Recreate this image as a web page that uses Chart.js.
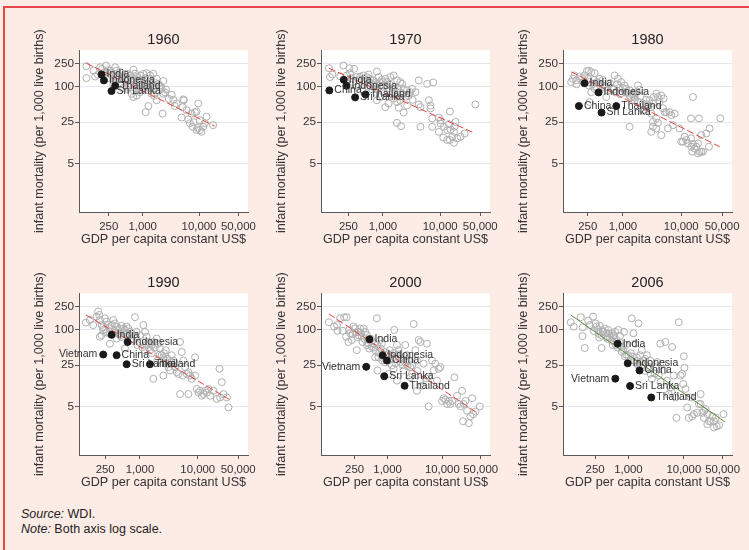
<!DOCTYPE html>
<html>
<head>
<meta charset="utf-8">
<script src="https://cdn.jsdelivr.net/npm/chart.js@4.4.0/dist/chart.umd.min.js"></script>
<style>
    body { margin: 0; width: 749px; height: 550px; background: #fdebe5; position: relative; overflow: hidden; font-family: "Liberation Sans", Arial, sans-serif; }
    #frame { position: absolute; left: 3px; top: 6px; right: -5px; bottom: -5px; border-top: 2px solid #e5474b; border-left: 2px solid #e5474b; }
    canvas { position: absolute; }
    .note { position: absolute; left: 21px; font-size: 12.5px; line-height: 15px; color: #222; }
</style>
</head>
<body>
<div id="frame"></div>
<div class="note" style="top:507px"><i>Source:</i> WDI.</div>
<div class="note" style="top:522px"><i>Note:</i> Both axis log scale.</div>
<script>
// tick values (both axes log scale)
const xTicks = [250, 1000, 10000, 50000];
const yTicks = [5, 25, 100, 250];

// highlighted countries: name, gdp per capita, infant mortality
const keyNames1960 = ['India', 'Indonesia', 'Thailand', 'Sri Lanka'];
const keyGdp1960 = [186, 205, 325, 279];
const keyMort1960 = [161, 128, 104, 84.5];

const keyNames1970 = ['India', 'Indonesia', 'China', 'Thailand', 'Sri Lanka'];
const keyGdp1970 = [207, 231, 116, 497, 327];
const keyMort1970 = [131, 104, 86.7, 74, 66];

const keyNames1980 = ['India', 'Indonesia', 'China', 'Thailand', 'Sri Lanka'];
const keyGdp1980 = [220, 383, 176, 769, 430];
const keyMort1980 = [115, 80, 47, 47, 36.5];

const keyNames1990 = ['India', 'Indonesia', 'Vietnam', 'China', 'Sri Lanka', 'Thailand'];
const keyGdp1990 = [323, 611, 231, 394, 588, 1490];
const keyMort1990 = [82, 62, 38, 37, 26, 26];

const keyNames2000 = ['India', 'Indonesia', 'China', 'Vietnam', 'Sri Lanka', 'Thailand'];
const keyGdp2000 = [469, 811, 972, 408, 869, 2047];
const keyMort2000 = [69, 37, 30, 23.5, 16.3, 11.2];

const keyNames2006 = ['India', 'Indonesia', 'China', 'Vietnam', 'Sri Lanka', 'Thailand'];
const keyGdp2006 = [640, 972, 1585, 581, 1072, 2582];
const keyMort2006 = [58, 27, 20.4, 14.8, 11.1, 7.1];

// fitted line end points [gdp, mortality]
const fit1960 = [[100, 250], [19000, 21.4]];
const fit1970 = [[114, 206], [41000, 16.1]];
const fit1980 = [[130, 179], [45400, 9.6]];
const fit1990 = [[116, 178], [34500, 6.65]];
const fit2000 = [[85, 186], [43000, 3.9]];
const fit2006 = [[91, 178], [54800, 2.75]];

// all other countries [gdp, mortality]
const other1960 = [[100,223],[100,140],[134,188],[143,149],[176,214],[224,229],[231,177],[264,188],[283,155],[324,214],[347,188],[371,155],[303,128],[397,177],[425,136],[486,146],[521,166],[597,155],[684,194],[731,166],[783,146],[898,155],[1030,166],[1180,170],[1350,155],[1545,166],[1770,136],[2320,125],[1890,112],[1545,105],[1180,112],[898,120],[684,120],[597,105],[521,92],[639,76],[684,67],[783,71],[898,81],[1030,92],[1260,87],[1440,76],[1770,81],[2170,92],[2320,76],[1770,59],[1130,37],[1260,47],[2260,35],[3260,73],[3490,60],[4000,52],[5250,61],[5390,59],[5100,45],[6010,40],[3730,47],[4900,30],[6430,28],[7370,35],[8440,37],[9030,38],[9670,52],[6890,24],[7670,20.9],[9030,18.4],[10350,18.4],[11070,17.2],[11850,20.9],[12680,24],[13580,31],[10350,27],[17800,22.3],[200,170],[250,140],[300,110],[350,130],[420,110],[450,95],[500,125],[560,135],[650,140],[750,110],[850,100],[950,130],[1100,140],[1300,120],[1600,95],[2000,105],[2600,90],[420,170],[560,100],[700,85],[850,88],[1200,100],[1400,135],[2900,62],[8000,25],[9500,20],[160,160],[190,200],[240,190],[280,170],[330,150],[380,140],[440,150],[520,130],[620,125],[720,135],[820,125],[920,110],[1050,120],[1150,100],[1300,95],[1450,110],[1700,115],[2100,100],[2500,80],[1600,70]];

const other1970 = [[114,206],[119,146],[131,161],[204,229],[260,206],[314,201],[267,170],[234,155],[350,146],[400,149],[458,155],[524,146],[561,161],[600,136],[686,128],[785,181],[840,146],[960,131],[1100,136],[1175,120],[1345,146],[1539,155],[1761,128],[2015,120],[2155,112],[2306,92],[2637,87],[3018,81],[2467,67],[2015,59],[1761,55],[1100,45],[1257,52],[1539,63],[1439,76],[1027,81],[898,67],[785,59],[733,92],[600,105],[2637,48],[1884,44],[2306,36.5],[1761,24.4],[2070,21.4],[3229,92],[3694,81],[4226,128],[5917,112],[7536,118],[4226,50],[4521,45],[6330,59],[6771,48],[4521,20.9],[7244,29],[7244,20.9],[6771,43],[9480,30],[10140,27],[9480,17.2],[10140,23.8],[11600,20.9],[13270,18.4],[14190,23.2],[14790,38],[15180,18.8],[16240,14.2],[17370,17.2],[17830,20.9],[18580,25.4],[17370,11.2],[19870,13.3],[22730,14.2],[26730,16.1],[41100,50],[11300,13.8],[13270,12.5],[14790,12.5],[300,120],[450,110],[550,100],[700,115],[900,105],[1200,95],[350,100],[650,90],[1000,100],[1600,100],[2000,80],[500,125],[800,95],[180,150],[280,140],[380,130],[480,120],[580,120],[680,105],[780,110],[880,120],[1000,120],[1150,105],[1300,110],[1500,90],[1800,95],[2200,75],[2800,70],[3300,60]];

const other1980 = [[130,120],[139,136],[148,155],[158,128],[181,149],[220,155],[241,184],[261,188],[287,177],[327,170],[251,136],[268,120],[287,81],[327,92],[358,120],[398,136],[454,105],[485,96],[518,67],[553,87],[719,155],[821,136],[936,120],[1068,105],[1140,92],[1301,87],[1389,67],[1484,76],[1693,81],[1808,105],[1931,89],[1585,59],[1808,55],[2203,52],[2203,40],[2512,45],[2865,59],[3267,52],[3356,67],[3728,76],[3981,67],[4540,71],[4980,63],[4253,55],[4850,43],[5180,37],[5530,37],[6310,37],[6740,33],[7690,35],[3060,35],[3267,25.4],[3728,29],[3981,24.4],[3267,20.9],[3060,17.2],[3728,19.6],[4540,15.1],[1301,20.9],[5910,19.6],[7200,22.3],[9360,19.6],[10000,11.7],[10680,11.7],[11410,14.2],[12190,12.5],[13010,10.9],[14840,13.3],[14840,9.6],[15850,10.7],[15440,7.9],[16930,9.0],[18080,9.6],[19310,7.4],[20620,7.9],[22030,7.9],[23520,7.9],[19310,10.9],[22030,15.1],[26830,16.1],[30620,19.6],[29810,9.6],[14650,29],[20090,29],[15850,67],[46680,29],[268,55],[200,140],[300,110],[350,100],[450,130],[600,115],[800,110],[1000,95],[1200,80],[700,90],[900,75],[1500,70],[2500,60],[160,110],[210,120],[260,105],[320,130],[380,115],[520,100],[650,95],[750,80],[850,95],[1100,80],[1300,70],[1600,65],[2000,70],[2600,50],[3000,45]];

const other1990 = [[116,132],[136,146],[155,120],[177,167],[189,204],[197,178],[202,146],[216,120],[231,99],[247,156],[264,137],[282,120],[302,105],[323,120],[345,146],[368,128],[394,113],[421,99],[450,105],[481,116],[514,105],[549,99],[587,113],[628,105],[671,92],[717,87],[819,163],[875,92],[1000,81],[1143,120],[1222,92],[1306,76],[1396,62],[1490,58],[1592,55],[1702,62],[1945,71],[2080,58],[2222,48],[2376,37],[2540,34],[2715,30],[2900,26.5],[3100,23.2],[3310,20.4],[3540,37],[3785,30],[4045,23.2],[4325,19],[4625,17.8],[4940,62],[5285,42],[5650,30],[6030,23.2],[6445,17.8],[6890,19],[7365,16.7],[7870,14.7],[8990,16.7],[9610,9.9],[10280,8.6],[10970,9.2],[11730,7.6],[12540,8.1],[13400,9.2],[14320,8.6],[15310,9.9],[16360,7.6],[18700,9.2],[21330,6.7],[24370,7.1],[26060,12.9],[27850,8.1],[31830,7.1],[34020,4.8],[23760,21.7],[1702,14.7],[5500,16.7],[2540,16.7],[4940,8.1],[6890,8.1],[8990,34],[202,76],[216,81],[302,58],[394,71],[549,48],[260,90],[450,80],[700,70],[900,55],[1200,45],[1600,40],[2000,30],[2800,45],[3500,28],[230,110],[300,85],[360,95],[420,85],[480,75],[560,85],[650,80],[750,65],[850,75],[1000,60],[1100,50],[1300,55],[1500,45],[1800,50],[2200,38],[2600,40],[3000,32],[4000,27]];

const other2000 = [[85,134],[106,113],[122,96],[136,156],[152,96],[161,163],[180,163],[175,76],[193,62],[207,87],[223,67],[239,113],[256,105],[275,45],[295,92],[316,105],[339,76],[364,105],[390,92],[419,81],[449,67],[462,48],[517,51],[570,58],[638,156],[595,34],[684,34],[656,20.4],[734,67],[787,58],[906,42],[1043,30],[1119,37],[1200,24.8],[1324,99],[1288,21.7],[1482,55],[1589,45],[1706,28.3],[1829,34],[1963,20.4],[2104,55],[2258,37],[2422,30],[2600,23.2],[2788,17.8],[2993,125],[3210,45],[3443,30],[3693,67],[3962,62],[3962,13.7],[4250,11.2],[4559,26.5],[5247,58],[5627,5.0],[6476,30],[6935,20.4],[7447,26.5],[7980,13.7],[8570,21.7],[9190,23.2],[9860,6.2],[10570,6.9],[11350,6.5],[12170,5.5],[13060,6.2],[14000,5.5],[15030,6.2],[16590,15.6],[18550,7.6],[19900,5.5],[21340,5.0],[22890,9.2],[23890,2.8],[24560,5.5],[26350,6.2],[28260,4.2],[30330,2.6],[32530,3.4],[34890,6.9],[36390,3.7],[40180,4.1],[48200,5.0],[2600,15.6],[1043,17.8],[3443,9.2],[5627,16],[1482,13.7],[260,90],[300,80],[350,62],[420,55],[500,70],[600,45],[700,40],[800,30],[900,28],[1000,38],[1200,32],[1400,27],[1600,38],[1900,25],[2300,24],[120,120],[200,100],[230,85],[280,75],[320,90],[380,70],[430,60],[560,50],[650,55],[750,48],[1100,45],[1300,40],[1700,32],[2100,28],[2800,25],[3500,20],[5000,15]];

const other2006 = [[91,134],[103,113],[138,163],[148,78],[163,49],[187,143],[231,167],[255,128],[266,113],[285,99],[297,74],[305,117],[328,49],[351,92],[376,105],[404,87],[433,99],[464,74],[498,87],[534,76],[572,92],[614,67],[658,99],[705,78],[756,51],[834,92],[869,35.4],[1000,37],[1150,156],[1233,87],[1322,58],[1418,34],[1520,128],[1630,37],[1747,45],[1874,30],[2009,32],[2154,37],[2310,23.2],[2477,30],[2655,14.7],[3053,23.2],[3274,28.3],[3510,16.7],[3764,58],[4036,26.5],[4327,20.4],[4640,62],[4975,13.7],[5335,8.1],[5720,10.5],[6133,51],[6577,16.7],[7052,7.1],[7356,3.2],[8110,134],[8695,16.7],[9323,17.8],[9727,12],[10000,35.4],[10280,22.6],[10720,9.9],[11500,4.8],[12330,3.2],[13220,7.1],[14180,3.4],[15200,3.7],[17470,3.9],[18740,5.5],[20090,8.1],[21540,3.9],[23100,4.2],[24770,4.5],[26560,3.7],[28480,2.8],[30540,2.8],[32750,3.4],[35110,2.8],[37650,3.2],[39250,2.3],[43290,2.4],[51880,3.7],[20090,5.5],[23100,3.2],[26560,2.5],[35110,2.2],[350,95],[400,75],[450,85],[500,65],[550,80],[600,55],[700,60],[800,45],[900,55],[1100,40],[1300,30],[1500,25],[1700,28],[2000,20],[2500,18],[150,110],[200,120],[240,95],[290,85],[330,80],[420,70],[520,55],[640,50],[760,42],[900,38],[1200,35],[1400,27],[1800,25],[2200,22],[3000,18],[3800,13],[6000,9]];

// one panel per year: left/top is the canvas position in the page
const panels = [
    { year: '1960', left: 10, top: 15, xMin: 74, other: other1960, fit: fit1960, names: keyNames1960, gdp: keyGdp1960, mort: keyMort1960, fitColor: '#e8433c', dash: [7, 3] },
    { year: '1970', left: 252, top: 15, xMin: 83, other: other1970, fit: fit1970, names: keyNames1970, gdp: keyGdp1970, mort: keyMort1970, fitColor: '#e8433c', dash: [7, 3] },
    { year: '1980', left: 494, top: 15, xMin: 94, other: other1980, fit: fit1980, names: keyNames1980, gdp: keyGdp1980, mort: keyMort1980, fitColor: '#e8433c', dash: [7, 3] },
    { year: '1990', left: 10, top: 258, xMin: 88, other: other1990, fit: fit1990, names: keyNames1990, gdp: keyGdp1990, mort: keyMort1990, fitColor: '#e8433c', dash: [7, 3] },
    { year: '2000', left: 252, top: 258, xMin: 61, other: other2000, fit: fit2000, names: keyNames2000, gdp: keyGdp2000, mort: keyMort2000, fitColor: '#e8433c', dash: [7, 3] },
    { year: '2006', left: 494, top: 258, xMin: 66, other: other2006, fit: fit2006, names: keyNames2006, gdp: keyGdp2006, mort: keyMort2006, fitColor: '#5f8f3e', dash: [] },
];

Chart.defaults.font.family = '"Liberation Sans", Arial, sans-serif';
Chart.defaults.color = '#333';

// white background only inside the plot region
const whiteArea = {
    id: 'whiteArea',
    beforeDraw(chart) {
        const a = chart.chartArea;
        const ctx = chart.ctx;
        ctx.save();
        ctx.fillStyle = '#ffffff';
        ctx.fillRect(a.left, a.top, a.right - a.left, a.bottom - a.top);
        ctx.restore();
    }
};

// country names next to the black markers
const countryLabels = {
    id: 'countryLabels',
    afterDatasetsDraw(chart) {
        const ctx = chart.ctx;
        const meta = chart.getDatasetMeta(0);
        const names = chart.data.datasets[0].names;
        ctx.save();
        ctx.font = '10.5px "Liberation Sans", Arial, sans-serif';
        ctx.fillStyle = '#333';
        ctx.textBaseline = 'middle';
        meta.data.forEach((pt, i) => {
            const onLeft = names[i] === 'Vietnam';
            ctx.textAlign = onLeft ? 'right' : 'left';
            ctx.fillText(names[i], pt.x + (onLeft ? -6 : 5), pt.y);
        });
        ctx.restore();
    }
};

function fmt(v) {
    return Number(v).toLocaleString('en-US');
}

panels.forEach(p => {
    const canvas = document.createElement('canvas');
    canvas.width = 260;
    canvas.height = 237;
    canvas.style.left = p.left + 'px';
    canvas.style.top = p.top + 'px';
    document.body.appendChild(canvas);

    new Chart(canvas.getContext('2d'), {
        type: 'scatter',
        data: {
            datasets: [
                {
                    names: p.names,
                    data: p.gdp.map((g, i) => ({ x: g, y: p.mort[i] })),
                    pointRadius: 3.5,
                    backgroundColor: '#1a1a1a',
                    borderColor: '#1a1a1a',
                    borderWidth: 1,
                },
                {
                    type: 'line',
                    data: p.fit.map(d => ({ x: d[0], y: d[1] })),
                    borderColor: p.fitColor,
                    borderWidth: 1,
                    borderDash: p.dash,
                    pointRadius: 0,
                    fill: false,
                },
                {
                    data: p.other.map(d => ({ x: d[0], y: d[1] })),
                    pointRadius: 3.5,
                    backgroundColor: 'rgba(0,0,0,0)',
                    borderColor: '#b0b0b0',
                    borderWidth: 1,
                }
            ]
        },
        options: {
            responsive: false,
            animation: false,
            devicePixelRatio: 1,
            layout: { padding: { left: 16, top: 10, right: 22, bottom: 5 } },
            scales: {
                x: {
                    type: 'logarithmic',
                    min: p.xMin,
                    max: 74000,
                    afterBuildTicks: s => { s.ticks = xTicks.map(v => ({ value: v })); },
                    afterFit: s => { s.height = 35; },
                    ticks: { callback: v => fmt(v), font: { size: 11.4 }, color: '#333', padding: 4, maxRotation: 0, autoSkip: false },
                    grid: { drawOnChartArea: false, tickLength: 4, tickColor: '#595959' },
                    border: { color: '#595959', width: 1 },
                    title: { display: true, text: 'GDP per capita constant US$', font: { size: 12.6 }, color: '#333', padding: { top: 0, bottom: 0 } },
                },
                y: {
                    type: 'logarithmic',
                    min: 0.75,
                    max: 415,
                    afterBuildTicks: s => { s.ticks = yTicks.map(v => ({ value: v })); },
                    afterFit: s => { s.width = 53; },
                    ticks: { callback: v => fmt(v), font: { size: 11.8 }, color: '#333', padding: 1, autoSkip: false },
                    grid: { color: '#e3e9ee', tickLength: 4, tickColor: '#595959' },
                    border: { color: '#595959', width: 1 },
                    title: { display: true, text: 'infant mortality (per 1,000 live births)', font: { size: 12.6 }, color: '#333', padding: { top: 6, bottom: 0 } },
                }
            },
            plugins: {
                legend: { display: false },
                tooltip: { enabled: false },
                title: { display: true, text: p.year, fullSize: false, font: { size: 14.5, weight: 'normal' }, color: '#222', padding: { top: 6.3, bottom: 1.6 } },
            }
        },
        plugins: [whiteArea, countryLabels]
    });
});
</script>
</body>
</html>
